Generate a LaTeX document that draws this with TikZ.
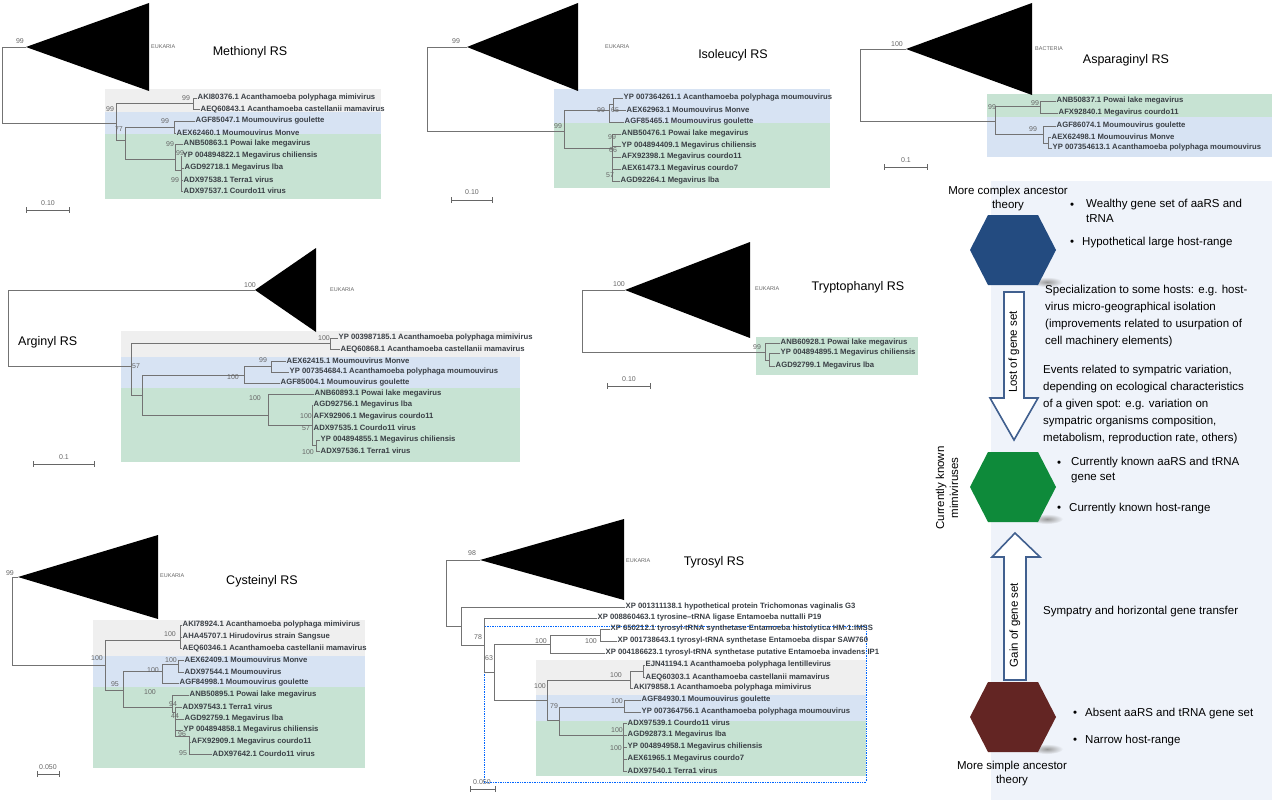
\documentclass[tikz,border=0pt]{standalone}
\usepackage{fontspec}
\setmainfont{Liberation Sans}
\usepackage{xcolor}
\definecolor{bgrey}{HTML}{EFEFEF}
\definecolor{bblue}{HTML}{D7E3F3}
\definecolor{bgreen}{HTML}{C7E3D3}
\definecolor{panel}{HTML}{EFF3FA}
\definecolor{hexblue}{HTML}{234B80}
\definecolor{hexgreen}{HTML}{0E8A3A}
\definecolor{hexbrown}{HTML}{632523}
\definecolor{arrowc}{HTML}{41608F}
\definecolor{leafc}{HTML}{3A3F45}

\tikzset{
  br/.style={draw=black!55,line width=0.6pt},
  tipn/.style={anchor=west,inner sep=0.5pt,text=leafc,font=\fontsize{7.7}{8}\selectfont\bfseries},
  bs/.style={inner sep=0,text=black!60,font=\fontsize{7}{8}\selectfont},
  clade/.style={fill=black},
  cladelab/.style={anchor=west,inner sep=0,text=black!60,font=\fontsize{5.5}{6}\selectfont},
  ttl/.style={inner sep=0,font=\fontsize{12.5}{14}\selectfont},
  ptext/.style={anchor=west,inner sep=0,align=left,font=\fontsize{11.5}{17}\selectfont},
  bar/.style={draw=black!60,line width=0.6pt,|-|,>=|}
}

% tip: branch end, text start, y, label
\newcommand{\tipl}[4]{\draw[br] (#1,#3) -- (#2,#3); \node[tipn] at (#2,#3) {#4};}
% hexagon: centre x, centre y, colour
\newcommand{\hexa}[3]{%
  \shade[inner color=black!40,outer color=panel] (#1+34,#2+32) ellipse (16 and 5);
  \fill[#3] (#1-43,#2) -- (#1-25,#2-35) -- (#1+25,#2-35) -- (#1+43,#2) -- (#1+25,#2+35) -- (#1-25,#2+35) -- cycle;}

\begin{document}
\begin{tikzpicture}[x=1pt,y=-1pt]
  \useasboundingbox (0,0) rectangle (1272,800);

  % ---------- Methionyl RS
  \fill[bgrey] (105,89) rectangle (381,112);
  \fill[bblue] (105,112) rectangle (381,134);
  \fill[bgreen] (105,134) rectangle (381,199);
  \fill[clade] (26,47) -- (149,3) -- (149,91) -- cycle;
  \node[cladelab] at (151,47) {EUKARIA};
  \node[ttl] at (250,52) {Methionyl RS};
  \draw[br] (26,47) -- (2,47) -- (2,123) -- (116,123);
  \draw[br] (116,103) -- (116,140);
  \draw[br] (116,103) -- (193,103) (193,98) -- (193,109);
  \tipl{193}{197}{98}{AKI80376.1 Acanthamoeba polyphaga mimivirus}
  \tipl{193}{200}{109}{AEQ60843.1 Acanthamoeba castellanii mamavirus}
  \draw[br] (116,140) -- (125,140) (125,127) -- (125,159);
  \draw[br] (125,127) -- (174,127) (174,121) -- (174,133);
  \tipl{174}{195}{121}{AGF85047.1 Moumouvirus goulette}
  \tipl{174}{176}{133}{AEX62460.1 Moumouvirus Monve}
  \draw[br] (125,159) -- (175,159) (175,144) -- (175,170) (175,170) -- (181,170) (181,156) -- (181,191);
  \tipl{175}{183}{144}{ANB50863.1 Powai lake megavirus}
  \tipl{181}{182}{156}{YP 004894822.1 Megavirus chiliensis}
  \tipl{181}{184}{168}{AGD92718.1 Megavirus lba}
  \tipl{181}{183}{180}{ADX97538.1 Terra1 virus}
  \tipl{181}{183}{191}{ADX97537.1 Courdo11 virus}
  \node[bs] at (20,41) {99};
  \node[bs] at (186,98) {99};
  \node[bs] at (110,109) {99};
  \node[bs] at (119,129) {77};
  \node[bs] at (165,121) {99};
  \node[bs] at (170,144) {99};
  \node[bs] at (180,153) {99};
  \node[bs] at (175,180) {99};
  \draw[bar] (26,210) -- (70,210);
  \node[bs] at (48,203) {0.10};

  % ---------- Isoleucyl RS
  \fill[bblue] (554,89) rectangle (830,123);
  \fill[bgreen] (554,123) rectangle (830,188);
  \fill[clade] (467,47) -- (578,3) -- (578,91) -- cycle;
  \node[cladelab] at (605,47) {EUKARIA};
  \node[ttl] at (733,55) {Isoleucyl RS};
  \draw[br] (467,47) -- (427,47) -- (427,131) -- (564,131);
  \draw[br] (564,110) -- (564,148);
  \draw[br] (564,110) -- (609,110) (609,104) -- (609,122) (609,104) -- (613,104) (613,98) -- (613,110);
  \tipl{613}{623}{98}{YP 007364261.1 Acanthamoeba polyphaga moumouvirus}
  \tipl{613}{626}{110}{AEX62963.1 Moumouvirus Monve}
  \tipl{609}{624}{122}{AGF85465.1 Moumouvirus goulette}
  \draw[br] (564,148) -- (612,148) (612,134) -- (612,181);
  \tipl{612}{621}{134}{ANB50476.1 Powai lake megavirus}
  \tipl{612}{621}{146}{YP 004894409.1 Megavirus chiliensis}
  \tipl{612}{621}{157}{AFX92398.1 Megavirus courdo11}
  \tipl{612}{621}{169}{AEX61473.1 Megavirus courdo7}
  \tipl{612}{620}{181}{AGD92264.1 Megavirus lba}
  \node[bs] at (456,41) {99};
  \node[bs] at (601,110) {99};
  \node[bs] at (615,110) {65};
  \node[bs] at (558,126) {99};
  \node[bs] at (612,137) {99};
  \node[bs] at (613,150) {66};
  \node[bs] at (610,175) {57};
  \draw[bar] (451,200) -- (493,200);
  \node[bs] at (472,192) {0.10};

  % ---------- Asparaginyl RS
  \fill[bgreen] (987,94) rectangle (1272,117);
  \fill[bblue] (987,117) rectangle (1272,157);
  \fill[clade] (906,49) -- (1032,3) -- (1032,95) -- cycle;
  \node[cladelab] at (1035,49) {BACTERIA};
  \node[ttl] at (1126,60) {Asparaginyl RS};
  \draw[br] (906,49) -- (860,49) -- (860,121) -- (995,121);
  \draw[br] (995,106) -- (995,134);
  \draw[br] (995,106) -- (1040,106) (1040,101) -- (1040,113);
  \tipl{1040}{1056}{101}{ANB50837.1 Powai lake megavirus}
  \tipl{1040}{1058}{113}{AFX92840.1 Megavirus courdo11}
  \draw[br] (995,134) -- (1043,134) (1043,126) -- (1043,143) (1043,143) -- (1048,143) (1048,137) -- (1048,148);
  \tipl{1043}{1056}{126}{AGF86074.1 Moumouvirus goulette}
  \tipl{1048}{1051}{137}{AEX62498.1 Moumouvirus Monve}
  \tipl{1048}{1052}{148}{YP 007354613.1 Acanthamoeba polyphaga moumouvirus}
  \node[bs] at (897,44) {100};
  \node[bs] at (992,107) {99};
  \node[bs] at (1035,103) {99};
  \node[bs] at (1033,129) {99};
  \draw[bar] (884,167) -- (928,167);
  \node[bs] at (906,160) {0.1};

  % ---------- Arginyl RS
  \fill[bgrey] (121,331) rectangle (520,357);
  \fill[bblue] (121,357) rectangle (520,388);
  \fill[bgreen] (121,388) rectangle (520,462);
  \fill[clade] (255,290) -- (316,248) -- (316,332) -- cycle;
  \node[cladelab] at (330,290) {EUKARIA};
  \node[ttl,anchor=west] at (18,342) {Arginyl RS};
  \draw[br] (255,290) -- (8,290) -- (8,366) -- (131,366);
  \draw[br] (131,343) -- (131,395);
  \draw[br] (131,343) -- (330,343) (330,338) -- (330,349);
  \tipl{330}{338}{338}{YP 003987185.1 Acanthamoeba polyphaga mimivirus}
  \tipl{330}{340}{349}{AEQ60868.1 Acanthamoeba castellanii mamavirus}
  \draw[br] (131,395) -- (142,395) (142,375) -- (142,415);
  \draw[br] (142,375) -- (244,375) (244,366) -- (244,383) (244,366) -- (271,366) (271,361) -- (271,372);
  \tipl{271}{286}{361}{AEX62415.1 Moumouvirus Monve}
  \tipl{271}{289}{372}{YP 007354684.1 Acanthamoeba polyphaga moumouvirus}
  \tipl{244}{280}{383}{AGF85004.1 Moumouvirus goulette}
  \draw[br] (142,415) -- (268,415) (268,394) -- (268,425) (268,425) -- (312,425) (312,405) -- (312,445) (312,445) -- (316,445) (316,440) -- (316,451);
  \tipl{268}{314}{394}{ANB60893.1 Powai lake megavirus}
  \tipl{312}{313}{405}{AGD92756.1 Megavirus lba}
  \tipl{312}{313}{417}{AFX92906.1 Megavirus courdo11}
  \tipl{312}{313}{428}{ADX97535.1 Courdo11 virus}
  \tipl{316}{320}{440}{YP 004894855.1 Megavirus chiliensis}
  \tipl{316}{320}{451}{ADX97536.1 Terra1 virus}
  \node[bs] at (250,285) {100};
  \node[bs] at (324,338) {100};
  \node[bs] at (136,366) {57};
  \node[bs] at (233,377) {100};
  \node[bs] at (263,360) {99};
  \node[bs] at (255,398) {100};
  \node[bs] at (306,416) {100};
  \node[bs] at (306,428) {57};
  \node[bs] at (308,452) {100};
  \draw[bar] (33,464) -- (95,464);
  \node[bs] at (64,457) {0.1};

  % ---------- Tryptophanyl RS
  \fill[bgreen] (756,337) rectangle (918,375);
  \fill[clade] (625,290) -- (750,242) -- (750,338) -- cycle;
  \node[cladelab] at (755,289) {EUKARIA};
  \node[ttl] at (858,287) {Tryptophanyl RS};
  \draw[br] (625,290) -- (582,290) -- (582,352) -- (765,352);
  \draw[br] (765,343) -- (765,360) (765,360) -- (769,360) (769,353) -- (769,366);
  \tipl{765}{780}{343}{ANB60928.1 Powai lake megavirus}
  \tipl{769}{780}{353}{YP 004894895.1 Megavirus chiliensis}
  \tipl{769}{775}{366}{AGD92799.1 Megavirus lba}
  \node[bs] at (619,284) {100};
  \node[bs] at (757,347) {99};
  \draw[bar] (607,386) -- (651,386);
  \node[bs] at (629,379) {0.10};

  % ---------- Cysteinyl RS
  \fill[bgrey] (93,620) rectangle (365,656);
  \fill[bblue] (93,656) rectangle (365,687);
  \fill[bgreen] (93,687) rectangle (365,768);
  \fill[clade] (18,577) -- (158,535) -- (158,619) -- cycle;
  \node[cladelab] at (160,576) {EUKARIA};
  \node[ttl] at (262,581) {Cysteinyl RS};
  \draw[br] (18,577) -- (12,577) -- (12,665) -- (105,665);
  \draw[br] (105,640) -- (105,690);
  \draw[br] (105,640) -- (180,640) (180,625) -- (180,648);
  \tipl{180}{182}{625}{AKI78924.1 Acanthamoeba polyphaga mimivirus}
  \tipl{180}{182}{637}{AHA45707.1 Hirudovirus strain Sangsue}
  \tipl{180}{182}{648}{AEQ60346.1 Acanthamoeba castellanii mamavirus}
  \draw[br] (105,690) -- (123,690) (123,671) -- (123,707);
  \draw[br] (123,671) -- (162,671) (162,664) -- (162,683) (162,664) -- (178,664) (178,660) -- (178,672);
  \tipl{178}{184}{660}{AEX62409.1 Moumouvirus Monve}
  \tipl{178}{184}{672}{ADX97544.1 Moumouvirus}
  \tipl{162}{179}{683}{AGF84998.1 Moumouvirus goulette}
  \draw[br] (123,707) -- (172,707) (172,695) -- (172,712) (172,712) -- (175,712) (175,707) -- (175,736) (175,736) -- (189,736) (189,742) -- (189,754) (189,736) -- (189,742);
  \tipl{172}{189}{695}{ANB50895.1 Powai lake megavirus}
  \tipl{175}{182}{707}{ADX97543.1 Terra1 virus}
  \tipl{175}{184}{719}{AGD92759.1 Megavirus lba}
  \tipl{175}{183}{730}{YP 004894858.1 Megavirus chiliensis}
  \tipl{189}{191}{742}{AFX92909.1 Megavirus courdo11}
  \tipl{189}{212}{754}{ADX97642.1 Courdo11 virus}
  \node[bs] at (10,573) {99};
  \node[bs] at (170,634) {100};
  \node[bs] at (97,658) {100};
  \node[bs] at (171,660) {100};
  \node[bs] at (153,670) {100};
  \node[bs] at (115,684) {95};
  \node[bs] at (150,692) {100};
  \node[bs] at (173,704) {94};
  \node[bs] at (175,716) {44};
  \node[bs] at (182,734) {96};
  \node[bs] at (183,753) {95};
  \draw[bar] (37,774) -- (60,774);
  \node[bs] at (48,767) {0.050};

  % ---------- Tyrosyl RS
  \fill[bgrey] (536,660) rectangle (866,695);
  \fill[bblue] (536,695) rectangle (866,721);
  \fill[bgreen] (536,721) rectangle (866,776);
  \draw[densely dotted,draw=blue!60!cyan,line width=0.7pt] (484,626) rectangle (866,782);
  \fill[clade] (480,560) -- (624,519) -- (624,600) -- cycle;
  \node[cladelab] at (626,561) {EUKARIA};
  \node[ttl] at (714,562) {Tyrosyl RS};
  \draw[br] (480,560) -- (446,560) -- (446,626) -- (461,626);
  \draw[br] (461,607) -- (461,645);
  \tipl{461}{625}{607}{XP 001311138.1 hypothetical protein Trichomonas vaginalis G3}
  \draw[br] (461,645) -- (484,645) (484,618) -- (484,672);
  \tipl{484}{597}{618}{XP 008860463.1 tyrosine--tRNA ligase Entamoeba nuttalli P19}
  \draw[br] (484,672) -- (494,672) (494,644) -- (494,700);
  \draw[br] (494,644) -- (550,644) (550,635) -- (550,653) (550,635) -- (600,635) (600,629) -- (600,641);
  \tipl{600}{610}{629}{XP 650212.1 tyrosyl-tRNA synthetase Entamoeba histolytica HM-1:IMSS}
  \tipl{600}{617}{641}{XP 001738643.1 tyrosyl-tRNA synthetase Entamoeba dispar SAW760}
  \tipl{550}{605}{653}{XP 004186623.1 tyrosyl-tRNA synthetase putative Entamoeba invadens IP1}
  \draw[br] (494,700) -- (547,700) (547,680) -- (547,720);
  \draw[br] (547,680) -- (630,680) (630,671) -- (630,688) (630,671) -- (643,671) (643,665) -- (643,677);
  \tipl{643}{645}{665}{EJN41194.1 Acanthamoeba polyphaga lentillevirus}
  \tipl{643}{645}{677}{AEQ60303.1 Acanthamoeba castellanii mamavirus}
  \tipl{630}{633}{688}{AKI79858.1 Acanthamoeba polyphaga mimivirus}
  \draw[br] (547,720) -- (559,720) (559,707) -- (559,735);
  \draw[br] (559,707) -- (624,707) (624,700) -- (624,712);
  \tipl{624}{641}{700}{AGF84930.1 Moumouvirus goulette}
  \tipl{624}{641}{712}{YP 007364756.1 Acanthamoeba polyphaga moumouvirus}
  \draw[br] (559,735) -- (623,735) (623,723) -- (623,771);
  \tipl{623}{627}{723}{ADX97539.1 Courdo11 virus}
  \tipl{623}{627}{735}{AGD92873.1 Megavirus lba}
  \tipl{623}{627}{747}{YP 004894958.1 Megavirus chiliensis}
  \tipl{623}{627}{759}{AEX61965.1 Megavirus courdo7}
  \tipl{623}{627}{771}{ADX97540.1 Terra1 virus}
  \node[bs] at (472,553) {98};
  \node[bs] at (478,637) {78};
  \node[bs] at (489,658) {63};
  \node[bs] at (541,641) {100};
  \node[bs] at (591,641) {100};
  \node[bs] at (540,686) {100};
  \node[bs] at (554,706) {79};
  \node[bs] at (616,675) {100};
  \node[bs] at (617,701) {100};
  \node[bs] at (617,730) {100};
  \node[bs] at (616,748) {100};
  \draw[bar] (470,789) -- (496,789);
  \node[bs] at (482,782) {0.050};

  % ---------- model panel
  \fill[panel] (991,181) rectangle (1272,800);
  \node[inner sep=0,align=center,font=\fontsize{11.5}{14}\selectfont] (cpx) at (1008,199) {More complex ancestor\\theory};
  \hexa{1013}{250}{hexblue}
  \hexa{1013}{487}{hexgreen}
  \hexa{1013}{717}{hexbrown}
  \node[inner sep=0,align=center,font=\fontsize{11.5}{14}\selectfont] (smp) at (1012,774) {More simple ancestor\\theory};
  \node[inner sep=0,align=center,rotate=90,font=\fontsize{11.5}{14}\selectfont] (cur) at (947,488) {Currently known\\mimiviruses};

  \node[ptext] at (1070,206) {•};
  \node[ptext,anchor=north west] at (1086,199) {Wealthy gene set of aaRS and\\[-2.5pt]tRNA};
  \node[ptext] at (1070,243) {•\hspace{8pt}Hypothetical large host-range};
  \node[ptext,anchor=north west,font=\fontsize{11.5}{17}\selectfont] at (1045,285) {Specialization to some hosts: e.g. host-\\virus micro-geographical isolation\\(improvements related to usurpation of\\cell machinery elements)};
  \node[ptext,anchor=north west,font=\fontsize{11.5}{17}\selectfont] at (1043,365) {Events related to sympatric variation,\\depending on ecological characteristics\\of a given spot: e.g. variation on\\sympatric organisms composition,\\metabolism, reproduction rate, others)};
  \node[ptext] at (1057,464) {•};
  \node[ptext,anchor=north west] at (1071,457) {Currently known aaRS and tRNA\\[-2.5pt]gene set};
  \node[ptext] at (1057,509) {•\hspace{8pt}Currently known host-range};
  \node[ptext] at (1043,612) {Sympatry and horizontal gene transfer};
  \node[ptext] at (1073,714) {•\hspace{8pt}Absent aaRS and tRNA gene set};
  \node[ptext] at (1073,741) {•\hspace{8pt}Narrow host-range};

  % arrows
  \draw[arrowc,line width=1.6pt,fill=white] (1004,292) -- (1024,292) -- (1024,398) -- (1038,398) -- (1014,440) -- (990,398) -- (1004,398) -- cycle;
  \node[rotate=90,inner sep=0,font=\fontsize{11.5}{14}\selectfont] (lost) at (1014,352) {Lost of gene set};
  \draw[arrowc,line width=1.6pt,fill=white] (1004,680) -- (1026,680) -- (1026,557) -- (1040,557) -- (1015,533) -- (992,557) -- (1004,557) -- cycle;
  \node[rotate=90,inner sep=0,font=\fontsize{11.5}{14}\selectfont] (gain) at (1015,625) {Gain of gene set};
\end{tikzpicture}
\end{document}
